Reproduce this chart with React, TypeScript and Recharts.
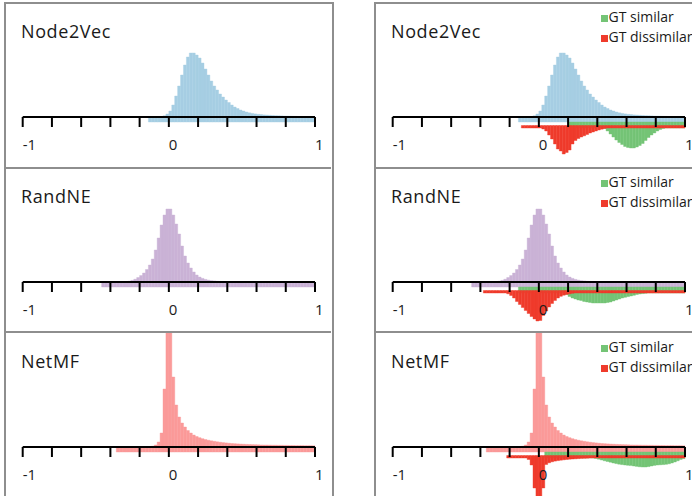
import React from 'react';
import { ComposedChart, Bar, XAxis, YAxis, ReferenceLine, ReferenceDot, Legend } from 'recharts';

// histogram bins over the cosine similarity range [-1, 1]
const BIN_WIDTH = 0.02;
const BIN_COUNT = 100;
const binCenters = Array.from({ length: BIN_COUNT }, (_, i) => Number((-1 + BIN_WIDTH * (i + 0.5)).toFixed(2)));

const axisTicks = [-1, -0.8, -0.6, -0.4, -0.2, 0, 0.2, 0.4, 0.6, 0.8, 1];
const tickLabels = [-1, 0, 1];
const legendOrder = ['similar', 'dissimilar'];

// all pairs (upward histogram), first bin centre then one value per bin
const node2vecFrom = -0.13;
const node2vecAll = [
    0, 0, 0, 0.2, 0.5, 1.2, 3,
    6, 12, 21, 31, 42, 52, 60, 64, 64, 62, 59, 54, 48, 42, 36, 31, 27, 23, 20, 17,
    14.5, 12, 10, 8.5, 7, 6, 5, 4.2, 3.6, 3.1, 2.7, 2.4, 2.1, 1.9, 1.7, 1.5, 1.3, 1.2,
    1.1, 1, 0.9, 0.8, 0.7, 0.6, 0.5, 0.5, 0.4, 0.4, 0.3, 0.3,
];
const node2vecSimilarFrom = 0.21;
const node2vecSimilar = [
    0, 0, 0, 0, 0, 0, 0, 0, 0, 0, 0, 0,
    0.5, 3, 6, 9, 12, 14.5, 16.5, 18.5, 19.5, 20, 20, 19, 17.5, 15.5, 12.5, 9.5, 7, 5, 3, 1.5, 0.5,
    0, 0, 0, 0, 0, 0, 0,
];
const node2vecDissimilarFrom = -0.11;
const node2vecDissimilar = [
    0, 0, 0, 0, 0, 0, 0,
    1, 3, 7, 11, 16, 21, 23, 26, 24.5, 22, 16, 12.5, 10.5, 9, 7.8, 6.5, 5, 4, 3, 2, 1.2, 0.5,
    0, 0, 0, 0, 0, 0, 0, 0, 0, 0, 0, 0, 0, 0, 0, 0, 0, 0, 0, 0, 0, 0, 0, 0, 0, 0, 0,
];

const randneFrom = -0.45;
const randneAll = [
    0, 0, 0, 0, 0, 0, 0,
    0.2, 0.4, 0.8, 1.6, 2.8, 4.5, 6.5, 9, 12.5, 17, 23, 32, 44, 57, 67, 73, 73, 67, 58, 48,
    36, 26, 19, 14, 10, 7, 5, 3.6, 2.6, 1.9, 1.4, 1.1, 0.8, 0.6, 0.5, 0.4, 0.3, 0.3, 0.2,
    0, 0, 0, 0, 0, 0, 0, 0, 0, 0, 0, 0, 0, 0, 0, 0, 0, 0, 0, 0, 0, 0, 0, 0, 0, 0, 0,
];
const randneSimilarFrom = -0.13;
const randneSimilar = [
    0, 0, 0, 0, 0, 0, 0, 0, 0, 0, 0, 0, 0, 0, 0, 0,
    1.5, 3.5, 5, 6, 7, 7.5, 8.5, 9, 9.5, 10, 10, 10, 10, 10, 9.5, 9, 8, 7, 6, 5, 4.3, 3.6,
    3, 2.3, 1.5, 1, 0.6, 0.3,
    0, 0, 0, 0, 0, 0, 0, 0, 0, 0, 0, 0, 0,
];
const randneDissimilarFrom = -0.37;
const randneDissimilar = [
    0, 0, 0, 0, 0, 0, 0, 0,
    0.8, 2.5, 5, 8.5, 11.5, 14.5, 17.5, 20.5, 23.5, 26, 28, 27.5, 22.5, 18, 14, 10.5, 7.5,
    5, 3.3, 2.2, 1.4, 0.8, 0.3,
    0, 0, 0, 0, 0, 0, 0, 0, 0, 0, 0, 0, 0, 0, 0, 0, 0, 0, 0, 0, 0, 0, 0, 0, 0, 0, 0, 0,
    0, 0, 0, 0, 0, 0, 0, 0, 0, 0,
];

const netmfFrom = -0.35;
const netmfAll = [
    0, 0, 0, 0, 0, 0, 0, 0, 0, 0, 0,
    0.3, 0.8, 2, 5, 14, 58, 160,
    160, 70, 42, 30, 24, 20, 16.5, 14, 12, 10.5, 9.3, 8.3, 7.5, 6.8, 6.2, 5.7, 5.2, 4.8,
    4.4, 4.1, 3.8, 3.5, 3.3, 3.1, 2.9, 2.8, 2.6, 2.5, 2.4, 2.3, 2.2, 2.1, 2, 2, 1.9, 1.8,
    1.8, 1.7, 1.7, 1.6, 1.6, 1.5, 1.5, 1.4, 1.4, 1.4, 1.3, 1.3, 1.3, 1.2,
];
const netmfSimilarFrom = 0.05;
const netmfSimilar = [
    0, 0, 0, 0, 0, 0, 0, 0, 0, 0, 0, 0, 0, 0, 0, 0, 0,
    0.5, 1.2, 2, 2.8, 3.5, 4.2, 5, 5.6, 6.2, 6.6, 7, 7.3, 7.6, 8, 8.4, 8.8, 9, 9, 8.6, 8,
    7.4, 7, 6.8, 6.6, 6.3, 5.8, 5, 4, 2.8, 1.5, 0.6,
];
const netmfDissimilarFrom = -0.21;
const netmfDissimilar = [
    0, 0, 0, 0, 0, 0, 0,
    1.5, 7, 30, 45, 45, 30, 6.5, 4.8, 3.8, 3.1, 2.6, 2.2, 1.8, 1.5, 1.2, 1, 0.8, 0.6, 0.4,
    0.3, 0.2,
    0, 0, 0, 0, 0, 0, 0, 0, 0, 0, 0, 0, 0, 0, 0, 0, 0, 0, 0, 0, 0, 0, 0, 0, 0, 0, 0, 0,
    0, 0, 0, 0, 0,
];

// bars start a little below the axis, the two GT histograms hang under it
const ALL_BASE = -5;
const SIMILAR_TOP = -5;
const DISSIMILAR_TOP = -8.5;
const STRIP_BOTTOM = -11;
const Y_DOMAIN = [-51, 114];
const TICK_LENGTH = 10;
const LABEL_LEVEL = -28;

const FONT = '"Open Sans", sans-serif';
const GREEN = '#74c476';
const RED = '#ef3b2c';

function lookup(from: number, values: number[]) {
    const start = Math.round((from + 1) / BIN_WIDTH - 0.5);
    return (i: number) => (i >= start && i < start + values.length ? values[i - start] : null);
}

function buildRows(allFrom: number, all: number[], simFrom: number, sim: number[], disFrom: number, dis: number[]) {
    const a = lookup(allFrom, all);
    const s = lookup(simFrom, sim);
    const d = lookup(disFrom, dis);
    return binCenters.map((x, i) => {
        const h = a(i);
        const g = s(i);
        const r = d(i);
        return {
            x,
            all: h == null ? null : [ALL_BASE, h],
            similar: g == null ? null : [STRIP_BOTTOM - g, SIMILAR_TOP],
            dissimilar: r == null ? null : [STRIP_BOTTOM - r, DISSIMILAR_TOP],
        };
    });
}

const node2vecRows = buildRows(node2vecFrom, node2vecAll, node2vecSimilarFrom, node2vecSimilar, node2vecDissimilarFrom, node2vecDissimilar);
const randneRows = buildRows(randneFrom, randneAll, randneSimilarFrom, randneSimilar, randneDissimilarFrom, randneDissimilar);
const netmfRows = buildRows(netmfFrom, netmfAll, netmfSimilarFrom, netmfSimilar, netmfDissimilarFrom, netmfDissimilar);

const PANEL_W = 326;
const CHART_H = 165;

interface PanelProps {
    title: string;
    rows: any[];
    color: string;
    left: number;
    top: number;
    split: boolean;
}

function Panel({ title, rows, color, left, top, split }: PanelProps) {
    return (
        <div style={{ position: 'absolute', left, top, width: PANEL_W, height: CHART_H }}>
            <ComposedChart
                width={PANEL_W}
                height={CHART_H}
                data={rows}
                margin={{ top: 0, right: 16, bottom: 0, left: 17.7 }}
                barCategoryGap={0}
                barGap={0}
            >
                <XAxis xAxisId="all" dataKey="x" hide />
                <XAxis xAxisId="sim" dataKey="x" hide />
                <XAxis xAxisId="dis" dataKey="x" hide />
                <XAxis xAxisId="num" dataKey="x" type="number" domain={[-1, 1]} allowDataOverflow hide />
                <YAxis domain={Y_DOMAIN} allowDataOverflow hide />
                <Bar
                    xAxisId="all"
                    dataKey="all"
                    fill={color}
                    stroke={color}
                    strokeWidth={0.4}
                    legendType="none"
                    isAnimationActive={false}
                />
                {split && (
                    <Bar
                        xAxisId="sim"
                        dataKey="similar"
                        name="GT similar"
                        fill={GREEN}
                        stroke={GREEN}
                        strokeWidth={0.4}
                        legendType="square"
                        isAnimationActive={false}
                    />
                )}
                {split && (
                    <Bar
                        xAxisId="dis"
                        dataKey="dissimilar"
                        name="GT dissimilar"
                        fill={RED}
                        stroke={RED}
                        strokeWidth={0.4}
                        legendType="square"
                        isAnimationActive={false}
                    />
                )}
                <ReferenceLine xAxisId="num" y={0} stroke="#000" strokeWidth={2} />
                {axisTicks.map((t) => (
                    <ReferenceLine
                        key={t}
                        xAxisId="num"
                        segment={[{ x: t, y: 0 }, { x: t, y: -TICK_LENGTH }]}
                        stroke="#000"
                        strokeWidth={2}
                    />
                ))}
                {tickLabels.map((t) => (
                    <ReferenceDot
                        key={t}
                        xAxisId="num"
                        x={t}
                        y={LABEL_LEVEL}
                        r={0}
                        fill="none"
                        stroke="none"
                        label={{ value: String(t), position: 'right', offset: 0, fill: '#1a1a1a', fontSize: 15 }}
                    />
                ))}
                {split && (
                    <Legend
                        layout="vertical"
                        align="center"
                        verticalAlign="middle"
                        iconSize={7}
                        itemSorter={(item: any) => legendOrder.indexOf(item.dataKey)}
                        wrapperStyle={{ top: 4, left: 225.5, width: 140, fontSize: 14, lineHeight: '20px', whiteSpace: 'nowrap' }}
                        formatter={(value: string) => (
                            <span style={{ color: '#1a1a1a', whiteSpace: 'nowrap', marginLeft: -3 }}>{value}</span>
                        )}
                    />
                )}
            </ComposedChart>
            <div
                style={{
                    position: 'absolute',
                    left: 16,
                    top: 19,
                    fontSize: 18,
                    lineHeight: '18px',
                    letterSpacing: 0.6,
                    color: '#1a1a1a',
                }}
            >
                {title}
            </div>
        </div>
    );
}

const COL_LEFT = [5, 375];
const ROW_TOP = [3, 168, 333];
const BORDER = '2px solid #8e8e8e';

export default function App() {
    const panels = [
        { title: 'Node2Vec', rows: node2vecRows, color: '#a6cee3' },
        { title: 'RandNE', rows: randneRows, color: '#cab2d6' },
        { title: 'NetMF', rows: netmfRows, color: '#fb9a99' },
    ];
    return (
        <div
            style={{
                position: 'fixed',
                left: 0,
                top: 0,
                width: 692,
                height: 496,
                overflow: 'hidden',
                background: '#fff',
                fontFamily: FONT,
            }}
        >
            {COL_LEFT.map((cl, c) =>
                panels.map((p, r) => (
                    <Panel key={`${c}-${r}`} title={p.title} rows={p.rows} color={p.color} left={cl} top={ROW_TOP[r]} split={c === 1} />
                ))
            )}
            {COL_LEFT.map((cl) => (
                <div
                    key={`frame-${cl}`}
                    style={{
                        position: 'absolute',
                        left: cl - 1,
                        top: 2,
                        width: PANEL_W,
                        height: 520,
                        borderLeft: BORDER,
                        borderRight: BORDER,
                        borderTop: BORDER,
                        pointerEvents: 'none',
                    }}
                />
            ))}
            {COL_LEFT.map((cl) =>
                [167, 331].map((y) => (
                    <div
                        key={`div-${cl}-${y}`}
                        style={{ position: 'absolute', left: cl, top: y, width: PANEL_W, borderTop: BORDER, pointerEvents: 'none' }}
                    />
                ))
            )}
        </div>
    );
}
